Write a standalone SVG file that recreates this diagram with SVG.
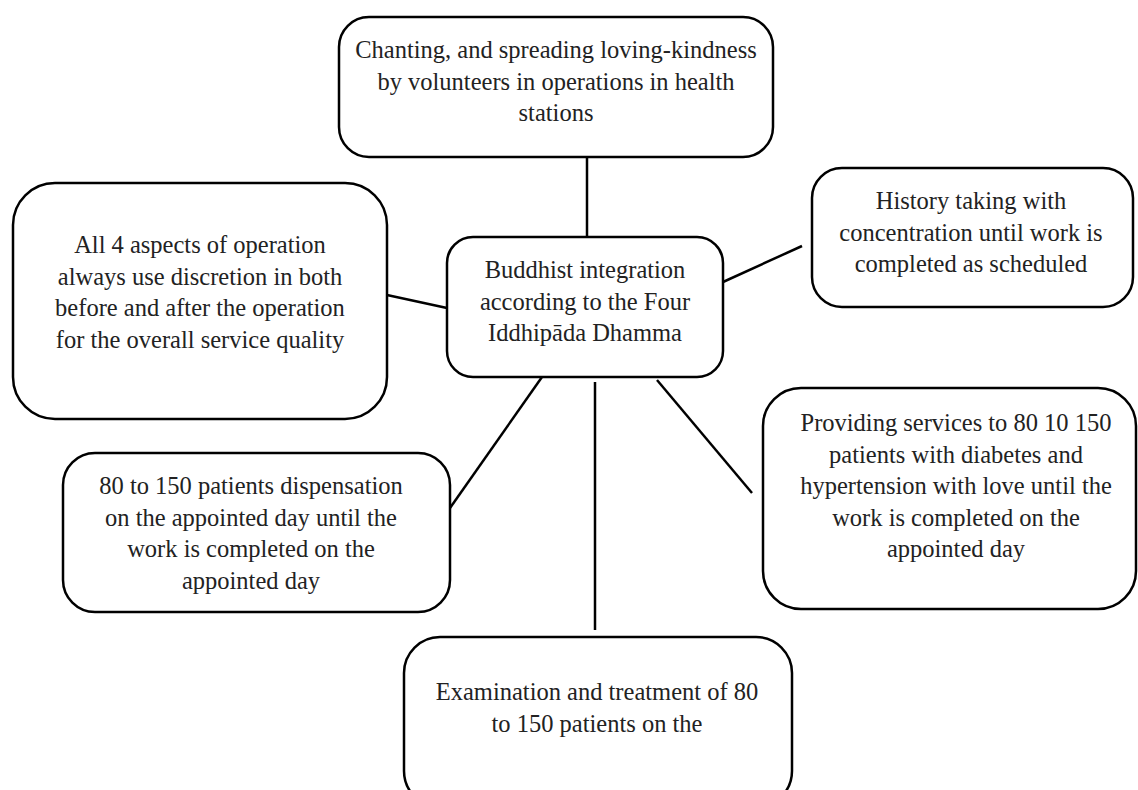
<svg xmlns="http://www.w3.org/2000/svg" width="1138" height="790" viewBox="0 0 1138 790">
<style>
.box{fill:#fff;stroke:#000;stroke-width:2.5}
.t{font-family:"Liberation Serif","Times New Roman",serif;font-size:24.5px;fill:#222;text-anchor:middle}
.c{stroke:#000;stroke-width:2.5;fill:none}
</style>
<rect width="1138" height="790" fill="#fff"/>
<g id="connectors">
<line class="c" x1="587" y1="157" x2="587" y2="238"/>
<line class="c" x1="387" y1="295" x2="447" y2="308"/>
<line class="c" x1="723" y1="282" x2="802" y2="246"/>
<line class="c" x1="542" y1="377" x2="450" y2="508"/>
<line class="c" x1="595" y1="382" x2="595" y2="630"/>
<line class="c" x1="657" y1="380" x2="752" y2="493"/>
</g>
<g id="top">
<rect class="box" x="339" y="17" width="434" height="140" rx="30"/>
<text class="t" x="556" y="58">Chanting, and spreading loving-kindness</text>
<text class="t" x="556" y="89.5">by volunteers in operations in health</text>
<text class="t" x="556" y="121">stations</text>
</g>
<g id="left">
<rect class="box" x="13" y="183" width="374" height="236" rx="42"/>
<text class="t" x="200" y="253">All 4 aspects of operation</text>
<text class="t" x="200" y="284.5">always use discretion in both</text>
<text class="t" x="200" y="316">before and after the operation</text>
<text class="t" x="200" y="347.5">for the overall service quality</text>
</g>
<g id="center">
<rect class="box" x="447" y="237" width="276" height="140" rx="26"/>
<text class="t" x="585" y="278">Buddhist integration</text>
<text class="t" x="585" y="309.5">according to the Four</text>
<text class="t" x="585" y="341">Iddhipāda Dhamma</text>
</g>
<g id="right-top">
<rect class="box" x="812" y="168" width="321" height="139" rx="30"/>
<text class="t" x="971" y="209">History taking with</text>
<text class="t" x="971" y="240.5">concentration until work is</text>
<text class="t" x="971" y="272">completed as scheduled</text>
</g>
<g id="right-bottom">
<rect class="box" x="763" y="388" width="373" height="221" rx="38"/>
<text class="t" x="956" y="431">Providing services to 80 10 150</text>
<text class="t" x="956" y="462.5">patients with diabetes and</text>
<text class="t" x="956" y="494">hypertension with love until the</text>
<text class="t" x="956" y="525.5">work is completed on the</text>
<text class="t" x="956" y="557">appointed day</text>
</g>
<g id="bottom-left">
<rect class="box" x="63" y="453" width="387" height="159" rx="32"/>
<text class="t" x="251" y="494">80 to 150 patients dispensation</text>
<text class="t" x="251" y="525.5">on the appointed day until the</text>
<text class="t" x="251" y="557">work is completed on the</text>
<text class="t" x="251" y="588.5">appointed day</text>
</g>
<g id="bottom">
<rect class="box" x="404" y="637" width="388" height="170" rx="36"/>
<text class="t" x="597" y="700">Examination and treatment of 80</text>
<text class="t" x="597" y="731.5">to 150 patients on the</text>
</g>
</svg>
